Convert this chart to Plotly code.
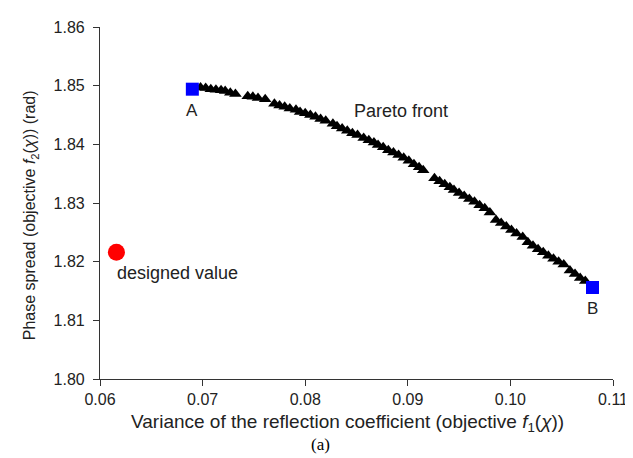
import plotly.graph_objects as go

# Pareto front points (objective f1, objective f2)
pareto_f1 = [0.0698, 0.0703, 0.0708, 0.0713, 0.0718, 0.0722, 0.0727, 0.0732,
             0.0744, 0.0749, 0.0754, 0.0761,
             0.0770, 0.0775, 0.0780, 0.0785, 0.0791, 0.0795, 0.0800, 0.0805, 0.0810, 0.0815, 0.0820,
             0.0827, 0.0831, 0.0836, 0.0841, 0.0846, 0.0851, 0.0857, 0.0862, 0.0867, 0.0871,
             0.0876, 0.0881, 0.0886, 0.0891, 0.0896, 0.0901, 0.0906, 0.0911, 0.0915,
             0.0926, 0.0931, 0.0936, 0.0941, 0.0945, 0.0950, 0.0955, 0.0960, 0.0965, 0.0970, 0.0975, 0.0980,
             0.0986, 0.0991, 0.0996, 0.1001, 0.1006, 0.1012,
             0.1017, 0.1022, 0.1027, 0.1032, 0.1037, 0.1042, 0.1047, 0.1052,
             0.1058, 0.1063, 0.1068, 0.1073]
pareto_f2 = [1.8497, 1.8496, 1.8494, 1.8493, 1.8492, 1.8491, 1.8488, 1.8486,
             1.8482, 1.8481, 1.8479, 1.8477,
             1.8469, 1.8466, 1.8464, 1.8461, 1.8459, 1.8455, 1.8453, 1.8450, 1.8447, 1.8443, 1.8440,
             1.8435, 1.8431, 1.8427, 1.8423, 1.8419, 1.8416, 1.8411, 1.8407, 1.8403, 1.8399,
             1.8395, 1.8390, 1.8386, 1.8382, 1.8377, 1.8372, 1.8366, 1.8361, 1.8356,
             1.8342, 1.8337, 1.8332, 1.8327, 1.8322, 1.8317, 1.8312, 1.8307, 1.8302, 1.8296, 1.8291, 1.8284,
             1.8271, 1.8266, 1.8260, 1.8254, 1.8248, 1.8242,
             1.8233, 1.8227, 1.8221, 1.8216, 1.8210, 1.8205, 1.8200, 1.8195,
             1.8185, 1.8179, 1.8172, 1.8167]

# Extreme solutions A and B
ends_f1 = [0.0690, 0.1080]
ends_f2 = [1.8494, 1.8156]
ends_labels = ["A", "B"]

# Designed value
design_f1 = [0.0616]
design_f2 = [1.8216]

x_ticks = [0.06, 0.07, 0.08, 0.09, 0.10, 0.11]
x_tick_labels = ["0.06", "0.07", "0.08", "0.09", "0.10", "0.11"]
y_ticks = [1.80, 1.81, 1.82, 1.83, 1.84, 1.85, 1.86]
y_tick_labels = ["1.80", "1.81", "1.82", "1.83", "1.84", "1.85", "1.86"]

FONT = "Liberation Sans, Arial, sans-serif"
TXT = "#222222"

fig = go.Figure()
fig.add_trace(go.Scatter(x=pareto_f1, y=pareto_f2, mode="markers",
                         marker=dict(symbol="triangle-up", size=11, color="black"),
                         showlegend=False, hoverinfo="x+y"))
fig.add_trace(go.Scatter(x=ends_f1, y=ends_f2, mode="markers",
                         marker=dict(symbol="square", size=13, color="#0000FF"),
                         showlegend=False))
fig.add_trace(go.Scatter(x=design_f1, y=design_f2, mode="markers",
                         marker=dict(symbol="circle", size=17, color="#FF0000"),
                         showlegend=False))

annos = [
    dict(x=ends_f1[0], y=1.8457, text=ends_labels[0], xref="x", yref="y", showarrow=False,
         xanchor="center", yanchor="middle",
         font=dict(size=17, color=TXT, family=FONT)),
    dict(x=ends_f1[1], y=1.8121, text=ends_labels[1], xref="x", yref="y", showarrow=False,
         xanchor="center", yanchor="middle",
         font=dict(size=17, color=TXT, family=FONT)),
    dict(x=0.0846, y=1.8457, text="Pareto front", xref="x", yref="y", showarrow=False,
         xanchor="left", yanchor="middle", font=dict(size=18, color=TXT, family=FONT)),
    dict(x=0.0615, y=1.8180, text="designed value", xref="x", yref="y", showarrow=False,
         xanchor="left", yanchor="middle", font=dict(size=18, color=TXT, family=FONT)),
    dict(x=0.482, y=-0.124, xref="paper", yref="paper", showarrow=False,
         xanchor="center", yanchor="middle",
         text="Variance of the reflection coefficient (objective <i>f</i><sub>1</sub>(<i>χ</i>))",
         font=dict(size=19, color=TXT, family=FONT)),
    dict(x=-0.134, y=0.466, xref="paper", yref="paper", showarrow=False, textangle=-90,
         xanchor="center", yanchor="middle",
         text="Phase spread (objective <i>f</i><sub>2</sub>(<i>χ</i>)) (rad)",
         font=dict(size=16, color=TXT, family=FONT)),
    dict(x=0.43, y=-0.187, xref="paper", yref="paper", showarrow=False,
         xanchor="center", yanchor="middle",
         text="(a)", font=dict(size=17, color="#000000", family="Liberation Serif, Times New Roman, serif")),
]

fig.update_layout(
    width=633, height=458,
    margin=dict(l=92, r=28, t=19, b=87),
    paper_bgcolor="white", plot_bgcolor="white",
    annotations=annos,
    xaxis=dict(range=[0.06, 0.11], tickvals=x_ticks, ticktext=x_tick_labels,
               showline=True, linecolor="#333333", linewidth=1.2, mirror=False,
               ticks="outside", ticklen=6, tickcolor="#333333", tickwidth=1.2,
               showgrid=False, zeroline=False,
               tickfont=dict(size=16, color=TXT, family=FONT)),
    yaxis=dict(range=[1.80, 1.86], tickvals=y_ticks, ticktext=y_tick_labels,
               showline=True, linecolor="#333333", linewidth=1.2, mirror=False,
               ticks="outside", ticklen=6, tickcolor="#333333", tickwidth=1.2,
               ticklabelstandoff=5,
               showgrid=False, zeroline=False,
               tickfont=dict(size=16, color=TXT, family=FONT)),
)

fig.write_html("out.html")
